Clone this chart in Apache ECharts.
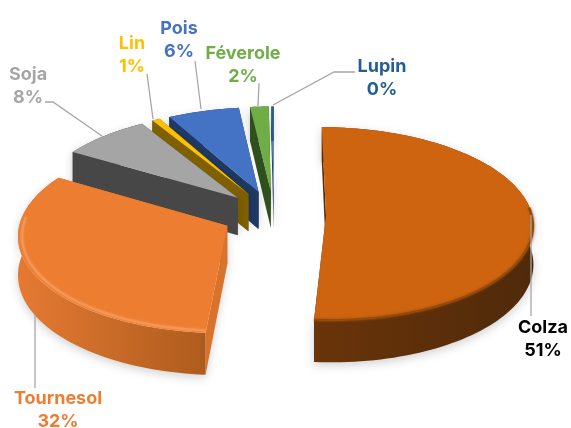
<!DOCTYPE html>
<html>
<head>
<meta charset="UTF-8">
<style>
  html, body { margin: 0; padding: 0; background: #fff; }
  #chart { width: 571px; height: 428px; }
</style>
<script src="https://cdn.jsdelivr.net/npm/echarts@6/dist/echarts.min.js"></script>
</head>
<body>
<div id="chart"></div>
<script>
const categories = ["Colza", "Tournesol", "Soja", "Lin", "Pois", "Féverole", "Lupin"];
const values = [51.2, 32.4, 7.7, 0.7, 6.2, 1.6, 0.2];

const topColors = ["#CF6410", "#ED7D31", "#A5A5A5", "#FFC000", "#4472C4", "#70AD47", "#255E91"];
const wallColors = ["#5A2D0A", "#D9722B", "#474747", "#7F6000", "#1F3864", "#2F4F1C", "#1F3864"];
const wallLeft = ["#6A3409", "#E57A32", "#555555", "#7F6000", "#1F3864", "#375623", "#1F3864"];
const wallRight = ["#4F2A0A", "#AE5C1E", "#333333", "#6B5000", "#1A2F55", "#2F4F1C", "#1F3864"];
const rimColors = ["#8A4509", "#F6995A", null, null, null, null, null];
const rimInset = [0.5, 4, 0, 0, 0, 0, 0];
const labelColors = ["#000000", "#ED7D31", "#A5A5A5", "#FFC000", "#4472C4", "#70AD47", "#255E91"];

// label centre [x, y of first line], then leader line points
const labelPos = [[543, 328], [58, 399], [28, 75], [132, 44], [179, 29], [243, 54], [382, 67]];
const leaders = [
  [[531, 215], [531, 316]],
  [[35, 315], [35, 388]],
  [[45, 102], [53, 102], [102, 136]],
  [[147, 74], [153, 119]],
  [[195, 61], [201, 109]],
  [[259, 83], [258, 106]],
  [[355, 72], [334, 72], [273, 105]]
];

// fake 3d projection
const cx = 274, cy = 214.5;
const R = 206, squash = 0.465, persp = 0.088, explode = 52, depth = 38;

function project(X, Y, z) {
  const w = 1 - persp * Y / R;
  return [cx + X / w, cy + squash * Y / w + z / w];
}

const total = values.reduce((a, b) => a + b, 0);
let acc = 0;
const slices = values.map((v) => {
  const start = acc / total * Math.PI * 2;
  acc += v;
  const end = acc / total * Math.PI * 2;
  const mid = (start + end) / 2;
  return { start, end, ox: Math.sin(mid) * explode, oy: -Math.cos(mid) * explode, mid };
});

function arcPoints(s, r, z, frontOnly) {
  const pts = [];
  const n = Math.max(2, Math.ceil((s.end - s.start) / 0.03));
  for (let i = 0; i <= n; i++) {
    const a = s.start + (s.end - s.start) * i / n;
    if (frontOnly && Math.cos(a) > 0.1) continue;
    pts.push(project(s.ox + Math.sin(a) * r, s.oy - Math.cos(a) * r, z));
  }
  return pts;
}

function renderSlice(params) {
  const i = params.dataIndex;
  const s = slices[i];
  const rank = Math.round((1 - Math.cos(s.mid)) * 10) * 10;
  const apexTop = project(s.ox, s.oy, 0);
  const apexBot = project(s.ox, s.oy, depth);
  const rimTop = arcPoints(s, R, 0);
  const rimBot = arcPoints(s, R, depth);
  const first = rimTop[0], last = rimTop[rimTop.length - 1];
  const firstBot = rimBot[0], lastBot = rimBot[rimBot.length - 1];
  const xs = rimTop.map((p) => p[0]);
  const children = [];
  const poly = (points, style, z2) => ({ type: "polygon", shape: { points }, style, z2, silent: true });

  children.push(poly([apexTop, last, lastBot, apexBot], { fill: wallColors[i] }, rank + 1));
  children.push(poly(rimTop.concat(rimBot.slice().reverse()), {
    fill: new echarts.graphic.LinearGradient(
      Math.min(...xs), 0, Math.max(...xs), 0,
      [{ offset: 0, color: wallLeft[i] }, { offset: 1, color: wallRight[i] }], true),
    shadowBlur: 10, shadowColor: "rgba(0,0,0,0.18)", shadowOffsetY: 3
  }, rank + 2));
  children.push(poly([apexTop, first, firstBot, apexBot], {
    fill: wallColors[i], shadowBlur: 6, shadowColor: "rgba(0,0,0,0.12)", shadowOffsetX: 2
  }, rank + 3));
  children.push(poly([apexTop].concat(rimTop), { fill: topColors[i] }, rank + 4));
  if (rimColors[i]) {
    children.push({
      type: "polyline",
      shape: { points: arcPoints(s, R - rimInset[i], 0, true) },
      style: { stroke: rimColors[i], lineWidth: 2.5, fill: null, opacity: 0.75, shadowBlur: 3, shadowColor: rimColors[i] },
      z2: rank + 5, silent: true
    });
  }

  // leader and label
  children.push({
    type: "polyline",
    shape: { points: leaders[i] },
    style: { stroke: "#A6A6A6", lineWidth: 1.3, fill: null },
    z2: 900, silent: true
  });
  const pct = Math.round(values[i] / total * 100);
  [categories[i], pct + "%"].forEach((t, k) => {
    children.push({
      type: "text",
      style: {
        text: t, x: labelPos[i][0], y: labelPos[i][1] + k * 23,
        fill: labelColors[i], font: "700 18px Inter, sans-serif",
        align: "center", verticalAlign: "middle"
      },
      z2: 1000, silent: true
    });
  });
  return { type: "group", children };
}

const chart = echarts.init(document.getElementById("chart"));
chart.setOption({
  animation: false,
  backgroundColor: "#ffffff",
  series: [{
    type: "custom",
    coordinateSystem: "none",
    data: values.map((v, i) => ({ name: categories[i], value: v })),
    renderItem: renderSlice
  }]
});
</script>
</body>
</html>
